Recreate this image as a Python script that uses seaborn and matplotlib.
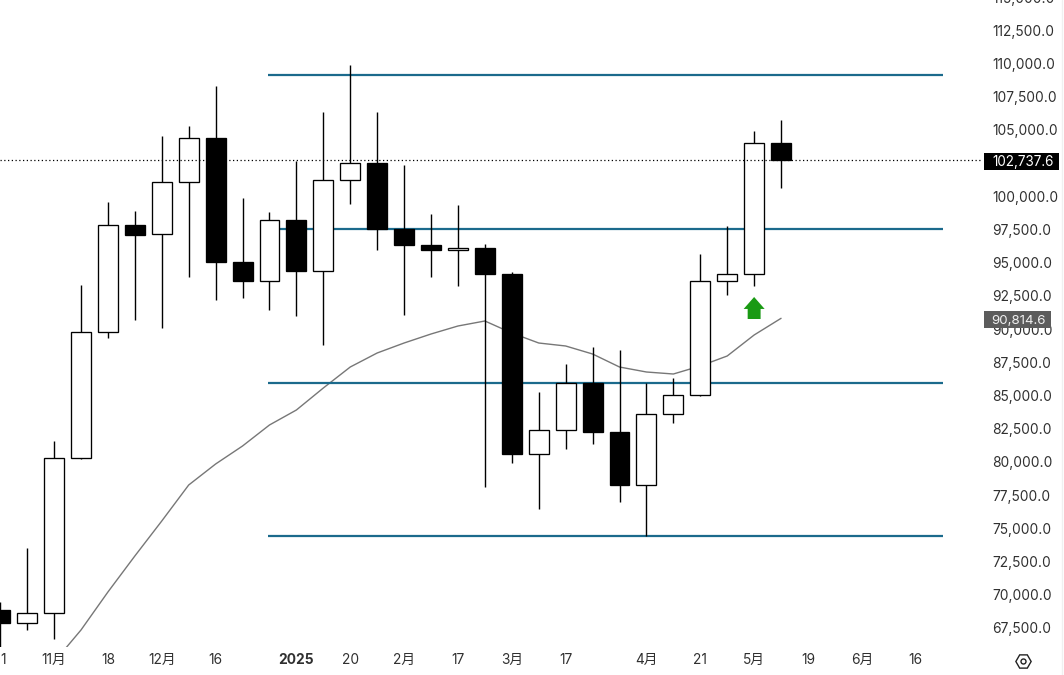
import numpy as np
import seaborn as sns
import matplotlib.pyplot as plt
from matplotlib.lines import Line2D
from matplotlib.patches import FancyArrow, Rectangle

opens = [68854, 67875, 68628, 80298, 89785, 97841, 97163, 101078, 104391, 95055,
         93624, 98217, 94377, 101229, 102509, 97539, 96335, 95958, 96109, 94151,
         80599, 82406, 85945, 82256, 78265, 83611, 85041, 93624, 94151, 104014]
closes = [67875, 68628, 80298, 89785, 97841, 97088, 101078, 104391, 95055, 93624,
          98217, 94377, 101229, 102509, 97539, 96335, 95958, 96109, 94151, 80599,
          82406, 85945, 82256, 78265, 83611, 85041, 93624, 94151, 104014, 102737.6]
highs = [69456, 73522, 81578, 93323, 99572, 98895, 104541, 105294, 108306, 99873,
         98819, 102659, 106348, 109887, 106348, 102358, 98669, 99347, 96410, 94302,
         85267, 87375, 88655, 88429, 85945, 86321, 95657, 97765, 104918, 105746]
lows = [65993, 67348, 66671, 80223, 89333, 90688, 90086, 93926, 92194, 92344,
        91441, 90989, 88806, 99422, 95958, 91065, 93926, 93248, 78115, 79922,
        76458, 80976, 81352, 76985, 74425, 82933, 84966, 92570, 93248, 100627]

ma_start = 2
ma_values = [64940, 67348, 70209, 72920, 75555, 78265, 79846, 81202, 82783, 83912,
             85568, 87149, 88204, 88956, 89634, 90236, 90613, 89709, 88956, 88731,
             88128, 87149, 86773, 86622, 87225, 87978, 89559, 90814.6]

levels = [109100, 97540, 85950, 74420]
level_start, level_end = 9.93, 35
last_price = 102737.6
ma_last = 90814.6

# 102,500 sits under the black price tag in the original, so it is left out
price_ticks = [p for p in range(67500, 115000, 2500) if p != 102500]
top_cut_tick = 115000
date_pos = [0.09, 2, 4, 6, 8, 11, 13, 15, 17, 19, 21, 24, 26, 28, 30, 32, 34]
date_labels = ['1', '11月', '18', '12月', '16', '2025', '20', '2月', '17', '3月',
               '17', '4月', '21', '5月', '19', '6月', '16']

W, H = 1064, 675
FS = 9.9
TXT = '#303030'
sns.set_theme(style='white')
plt.rcParams['font.family'] = ['Inter', 'Noto Sans CJK SC', 'DejaVu Sans']

fig = plt.figure(figsize=(W / 100, H / 100), dpi=100)
ax = fig.add_axes([0, 1 - 647 / H, 983 / W, 647 / H])
ax.set_xlim(-0.008, 36.5)
ax.set_ylim(66068, 114781)
sns.despine(ax=ax, left=True, bottom=True, right=True, top=True)

# moving average goes under everything
sns.lineplot(x=np.arange(ma_start, ma_start + len(ma_values)), y=ma_values, ax=ax,
             color='#777777', lw=1.0, errorbar=None, zorder=1)

ax.hlines(levels, level_start, level_end, color='#1b6a8c', lw=1.6, zorder=2)

x = np.arange(len(opens))
ax.vlines(x, lows, highs, color='black', lw=1.0, zorder=3)
bottoms = np.minimum(opens, closes)
heights = np.abs(np.subtract(closes, opens))
colors = ['white' if c > o else 'black' for o, c in zip(opens, closes)]
ax.bar(x, heights, bottom=bottoms, width=0.74, color=colors, edgecolor='black',
       linewidth=0.95, zorder=4)

ax.axhline(last_price, color='black', lw=0.9, ls=(0, (1, 2)), zorder=5)

ax.add_patch(FancyArrow(28, 90763, 0, 1657, width=0.48, head_width=0.78, head_length=900,
                        length_includes_head=True, color='#1a9a14', lw=0, zorder=6))

ax.yaxis.tick_right()
ax.set_yticks(price_ticks)
ax.set_yticklabels([f'{p:,.1f}' for p in price_ticks])
ax.set_xticks(date_pos)
ax.set_xticklabels(date_labels)
ax.tick_params(axis='y', length=0, pad=6.8, labelsize=FS, labelcolor=TXT)
ax.tick_params(axis='x', length=0, pad=4.2, labelsize=FS, labelcolor=TXT)
for lab in ax.get_xticklabels():
    if lab.get_text() == '2025':
        lab.set_fontweight('bold')

trans = ax.get_yaxis_transform()
text_x = 1 + 9.5 / 983
ax.text(text_x, top_cut_tick, f'{top_cut_tick:,.1f}', transform=trans, fontsize=FS,
        color=TXT, va='center_baseline', clip_on=False)

# price tags on the axis
ax.add_patch(Rectangle((1 + 1 / 983, last_price - 750), 75 / 983, 1300, transform=trans,
                       fc='black', ec='none', clip_on=False, zorder=9))
ax.text(text_x, last_price - 60, f'{last_price:,.1f}', transform=trans, fontsize=9.7,
        color='white', va='center_baseline', zorder=10)
ax.add_patch(Rectangle((1 + 1 / 983, ma_last - 740), 67 / 983, 1280, transform=trans,
                       fc='#5c5c5c', ec='none', clip_on=False, zorder=9))
ax.text(text_x - 1 / 983, ma_last - 80, f'{ma_last:,.1f}', transform=trans, fontsize=9.6,
        color='#f0f0f0', va='center_baseline', zorder=10)

# settings icon and the faint pane edge
fig.add_artist(Line2D([1023 / W], [1 - 661 / H], marker='H', ms=11, mfc='none', mec='#222222',
                      mew=1.0, ls='', transform=fig.transFigure))
fig.add_artist(Line2D([1023 / W], [1 - 661 / H], marker='o', ms=3.6, mfc='none', mec='#222222',
                      mew=1.0, ls='', transform=fig.transFigure))
fig.add_artist(Line2D([1062 / W, 1062 / W], [0, 1], color='#f0f0f0', lw=1.0,
                      transform=fig.transFigure))

fig.savefig('out.png', dpi=100)
